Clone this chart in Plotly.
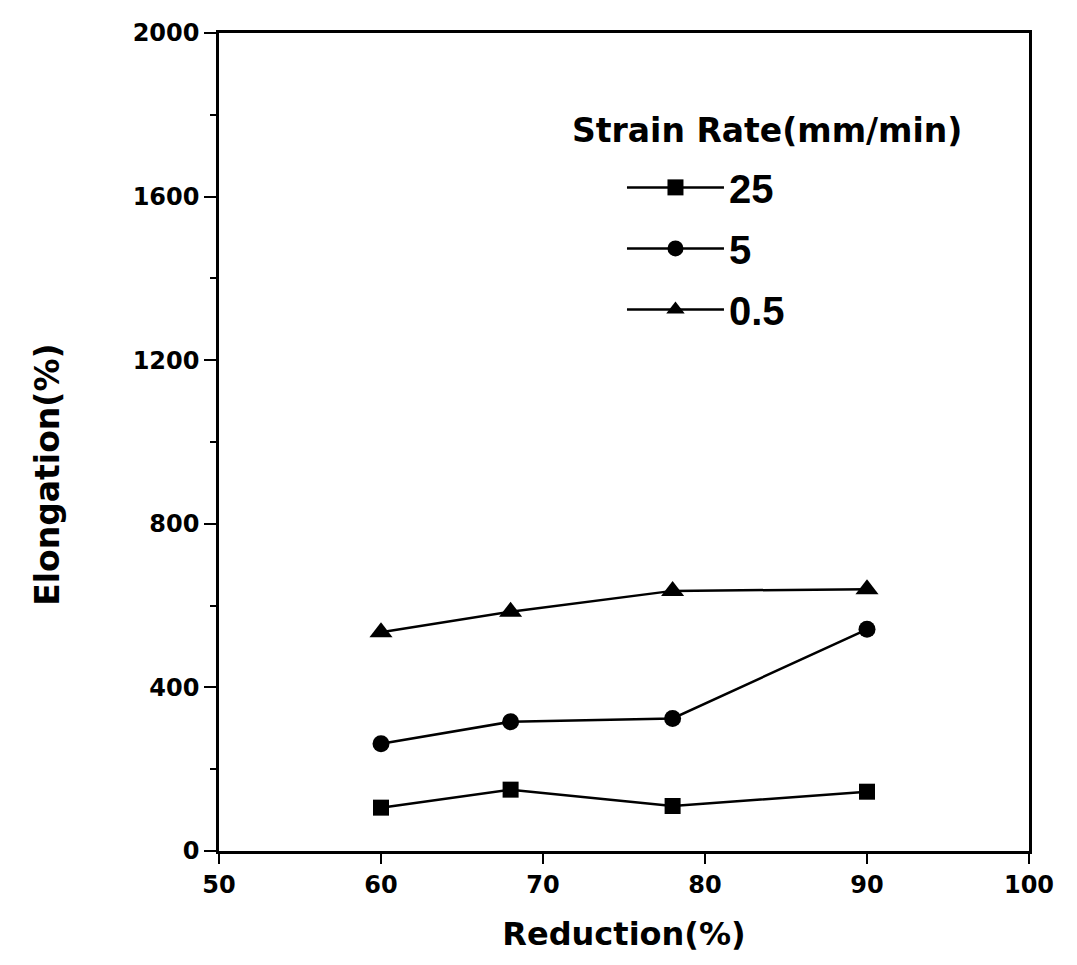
import plotly.graph_objects as go

reduction = [60, 68, 78, 90]
elong_25 = [106, 150, 110, 145]
elong_5 = [262, 316, 324, 542]
elong_05 = [535, 585, 636, 640]

series = [
    ("25", elong_25, "square", 16),
    ("5", elong_5, "circle", 17),
    ("0.5", elong_05, "triangle-up", 20),
]

legend_title = "Strain Rate(mm/min)"
x_title = "Reduction(%)"
y_title = "Elongation(%)"

fig = go.Figure()
for name, ys, sym, sz in series:
    fig.add_trace(go.Scatter(
        x=reduction, y=ys, name=name, mode="lines+markers",
        legendgroup=name,
        line=dict(color="black", width=2.5),
        marker=dict(symbol=sym, size=sz, color="black"),
    ))

bold = "DejaVu Sans, sans-serif"
arial = "Liberation Sans, Arial, sans-serif"

fig.add_annotation(
    text=legend_title, xref="paper", yref="paper",
    x=0.433, y=0.881, xanchor="left", yanchor="middle", showarrow=False,
    font=dict(size=33, family=bold, color="black", weight="bold"),
)
fig.add_annotation(
    text=y_title, xref="paper", yref="paper", textangle=-90,
    x=-0.211, y=0.46, xanchor="center", yanchor="middle", showarrow=False,
    font=dict(size=33, family=bold, color="black", weight="bold"),
)

fig.update_layout(
    width=1077, height=965,
    margin=dict(l=219, r=48, t=33, b=114),
    paper_bgcolor="white", plot_bgcolor="white",
    font=dict(family=bold, color="black"),
    showlegend=True,
    legend=dict(
        font=dict(size=40, family=arial, weight="bold"),
        x=0.4975, y=0.851, xanchor="left", yanchor="top",
        bgcolor="rgba(0,0,0,0)", itemwidth=97,
        traceorder="grouped", tracegroupgap=6,
    ),
    xaxis=dict(
        range=[50, 100], tickvals=[50, 60, 70, 80, 90, 100],
        showline=True, linecolor="black", linewidth=2.5, mirror=True,
        ticks="outside", ticklen=10, tickwidth=2, tickcolor="black",
        tickfont=dict(size=24, family=bold, weight="bold"),
        showgrid=False, zeroline=False,
        title=dict(text=x_title, font=dict(size=32, family=bold, weight="bold"), standoff=26),
    ),
    yaxis=dict(
        range=[0, 2000], tickvals=[0, 400, 800, 1200, 1600, 2000],
        showline=True, linecolor="black", linewidth=2.5, mirror=True,
        ticks="outside", ticklen=12, tickwidth=2, tickcolor="black",
        tickfont=dict(size=24, family=bold, weight="bold"),
        minor=dict(tickvals=[200, 600, 1000, 1400, 1800], ticks="outside", ticklen=6, tickwidth=2, tickcolor="black"),
        showgrid=False, zeroline=False,
    ),
)

fig.write_html("out.html")
